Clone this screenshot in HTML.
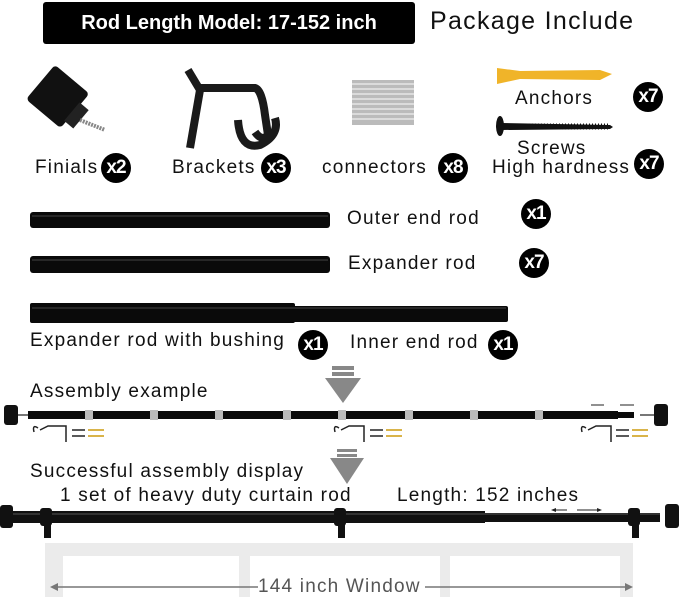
<!DOCTYPE html>
<html><head><style>
body{margin:0;width:679px;height:597px;background:#fff;position:relative;overflow:hidden;font-family:"Liberation Sans",sans-serif;color:#111}
.t{position:absolute;white-space:nowrap;font-size:19px;letter-spacing:1.2px}
.b{position:absolute;width:30px;height:30px;border-radius:50%;background:#000;color:#fff;font-weight:bold;font-size:19px;text-align:center;line-height:30px;letter-spacing:-1px}
svg{position:absolute;left:0;top:0}
</style></head><body>
<div style="position:absolute;left:43px;top:2px;width:372px;height:42px;background:#000;border-radius:3px;color:#fff;font-weight:bold;font-size:20px;line-height:42px;text-align:center">Rod Length Model: 17-152 inch</div>
<div class="t" style="left:430px;top:7px;font-size:25px;letter-spacing:1.3px">Package Include</div>

<svg width="679" height="597" viewBox="0 0 679 597">
<g transform="translate(58,100) rotate(40)"><rect x="-25" y="-25" width="45" height="45" rx="4" fill="#111"/><rect x="18" y="-12" width="12" height="24" fill="#222"/></g>
<line x1="80" y1="120" x2="105" y2="130" stroke="#888" stroke-width="4" stroke-dasharray="2 1"/>
<path d="M188 70 L200 90 L190 148 M198 88 L255 88 Q262 90 265 115 L268 135 Q262 142 255 132" stroke="#1a1a1a" stroke-width="8" fill="none"/>
<path d="M238 120 Q240 150 260 145 Q280 135 275 118" stroke="#1a1a1a" stroke-width="8" fill="none"/>
<rect x="352" y="80" width="62" height="45" fill="#bbb"/>
<g stroke="#eee" stroke-width="1.2"><line x1="352" y1="84" x2="414" y2="84"/><line x1="352" y1="89" x2="414" y2="89"/><line x1="352" y1="94" x2="414" y2="94"/><line x1="352" y1="99" x2="414" y2="99"/><line x1="352" y1="104" x2="414" y2="104"/><line x1="352" y1="109" x2="414" y2="109"/><line x1="352" y1="114" x2="414" y2="114"/><line x1="352" y1="119" x2="414" y2="119"/></g>
<path d="M497 68 L520 71 L600 70 L612 74 L600 80 L520 79 L497 84 Z" fill="#f0b429"/>
<ellipse cx="500" cy="126" rx="4" ry="10" fill="#111"/>
<path d="M502 123 L610 125 L613 127 L610 129 L502 130 Z" fill="#111"/>
<line x1="505" y1="126.5" x2="608" y2="126.5" stroke="#111" stroke-width="6" stroke-dasharray="1 2"/>
<rect x="30" y="212" width="300" height="16" rx="3" fill="#0a0a0a"/>
<line x1="32" y1="216" x2="328" y2="216" stroke="#444" stroke-width="1"/>
<rect x="30" y="256" width="300" height="17" rx="3" fill="#0a0a0a"/>
<line x1="32" y1="260" x2="328" y2="260" stroke="#444" stroke-width="1"/>
<rect x="30" y="303" width="265" height="20" rx="2" fill="#0a0a0a"/>
<rect x="292" y="306" width="216" height="16" rx="2" fill="#0a0a0a"/>
<line x1="32" y1="308" x2="506" y2="308" stroke="#444"/>
<rect x="332" y="366" width="22" height="4" fill="#888"/><rect x="332" y="372" width="22" height="4" fill="#888"/>
<path d="M325 378 L361 378 L343 403 Z" fill="#888"/>
<rect x="28" y="411" width="590" height="8" fill="#0a0a0a"/>
<rect x="594" y="412" width="40" height="6" fill="#0a0a0a"/>
<g fill="#bbb"><rect x="85" y="410" width="8" height="10"/><rect x="150" y="410" width="8" height="10"/><rect x="215" y="410" width="8" height="10"/><rect x="283" y="410" width="8" height="10"/><rect x="338" y="410" width="8" height="10"/><rect x="405" y="410" width="8" height="10"/><rect x="470" y="410" width="8" height="10"/><rect x="535" y="410" width="8" height="10"/></g>
<rect x="4" y="405" width="14" height="20" rx="3" fill="#111"/><line x1="18" y1="415" x2="28" y2="415" stroke="#777" stroke-width="2"/>
<rect x="654" y="404" width="14" height="22" rx="3" fill="#111"/><line x1="640" y1="415" x2="654" y2="415" stroke="#777" stroke-width="2"/>
<g stroke="#222" stroke-width="1" fill="none"><line x1="591" y1="405" x2="604" y2="405"/><line x1="620" y1="405" x2="634" y2="405"/></g>
<g stroke="#222" stroke-width="1.5" fill="none">
<path d="M34 432 Q32 424 38 428 M40 430 L48 426 L66 426 L66 442"/><line x1="72" y1="430" x2="85" y2="430"/><line x1="72" y1="436" x2="85" y2="436"/>
<path d="M335 432 Q333 424 339 428 M341 430 L349 426 L364 426 L364 442"/><line x1="370" y1="430" x2="383" y2="430"/><line x1="370" y1="436" x2="383" y2="436"/>
<path d="M582 432 Q580 424 586 428 M588 430 L596 426 L611 426 L611 442"/><line x1="616" y1="430" x2="629" y2="430"/><line x1="616" y1="436" x2="629" y2="436"/>
</g>
<g stroke="#d9b44a" stroke-width="2"><line x1="88" y1="430" x2="104" y2="430"/><line x1="88" y1="436" x2="104" y2="436"/><line x1="386" y1="430" x2="402" y2="430"/><line x1="386" y1="436" x2="402" y2="436"/><line x1="632" y1="430" x2="648" y2="430"/><line x1="632" y1="436" x2="648" y2="436"/></g>
<rect x="337" y="449" width="20" height="3" fill="#888"/><rect x="337" y="454" width="20" height="3" fill="#888"/>
<path d="M330 458 L364 458 L347 484 Z" fill="#888"/>
<rect x="45" y="543" width="588" height="60" fill="#ebebeb"/>
<rect x="63" y="556" width="176" height="50" fill="#fff"/><rect x="250" y="556" width="190" height="50" fill="#fff"/><rect x="450" y="556" width="170" height="50" fill="#fff"/>
<line x1="55" y1="587" x2="258" y2="587" stroke="#777" stroke-width="1.5"/><line x1="425" y1="587" x2="628" y2="587" stroke="#777" stroke-width="1.5"/>
<path d="M50 587 L58 583 L58 591 Z M633 587 L625 583 L625 591 Z" fill="#777"/>
<rect x="10" y="511" width="475" height="12" fill="#111"/>
<rect x="480" y="513" width="180" height="9" fill="#111"/>
<line x1="10" y1="514" x2="660" y2="514" stroke="#555"/>
<rect x="0" y="505" width="13" height="23" rx="3" fill="#111"/><rect x="665" y="504" width="14" height="24" rx="3" fill="#111"/>
<g fill="#111"><rect x="40" y="508" width="12" height="18" rx="3"/><rect x="44" y="520" width="7" height="18"/><rect x="334" y="508" width="12" height="18" rx="3"/><rect x="338" y="520" width="7" height="18"/><rect x="628" y="508" width="12" height="18" rx="3"/><rect x="632" y="520" width="7" height="18"/></g>
<g stroke="#222" stroke-width="1"><line x1="553" y1="510" x2="567" y2="510"/><line x1="577" y1="510" x2="600" y2="510"/></g>
<path d="M551 510 L556 508 L556 512 Z M602 510 L597 508 L597 512 Z" fill="#222"/>
</svg>

<div class="t" style="left:35px;top:157px">Finials</div><div class="b" style="left:101px;top:153px">x2</div>
<div class="t" style="left:172px;top:157px">Brackets</div><div class="b" style="left:261px;top:153px">x3</div>
<div class="t" style="left:322px;top:157px">connectors</div><div class="b" style="left:438px;top:153px">x8</div>
<div class="t" style="left:515px;top:88px">Anchors</div><div class="b" style="left:633px;top:82px">x7</div>
<div class="t" style="left:517px;top:138px">Screws</div>
<div class="t" style="left:492px;top:157px">High hardness</div><div class="b" style="left:634px;top:149px">x7</div>
<div class="t" style="left:347px;top:208px">Outer end rod</div><div class="b" style="left:521px;top:199px">x1</div>
<div class="t" style="left:348px;top:253px">Expander rod</div><div class="b" style="left:519px;top:248px">x7</div>
<div class="t" style="left:30px;top:330px">Expander rod with bushing</div><div class="b" style="left:298px;top:330px">x1</div>
<div class="t" style="left:350px;top:332px">Inner end rod</div><div class="b" style="left:488px;top:330px">x1</div>
<div class="t" style="left:30px;top:381px">Assembly example</div>
<div class="t" style="left:30px;top:461px">Successful assembly display</div>
<div class="t" style="left:60px;top:485px">1 set of heavy duty curtain rod</div>
<div class="t" style="left:397px;top:485px">Length: 152 inches</div>
<div class="t" style="left:258px;top:576px;color:#555">144 inch Window</div>
</body></html>
